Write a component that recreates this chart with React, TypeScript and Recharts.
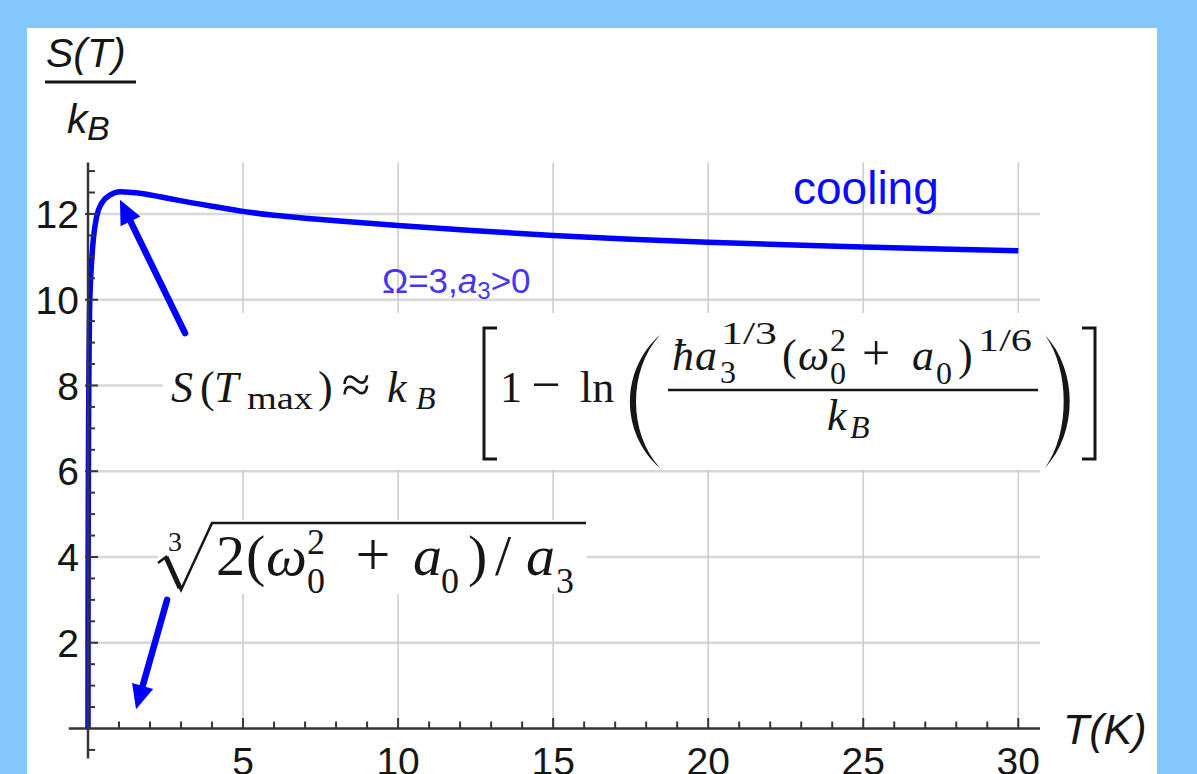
import React from 'react';
import { LineChart, Line, XAxis, YAxis, CartesianGrid, ReferenceLine } from 'recharts';

// entropy curve S(T)/k_B against temperature T (K)
const temperature = [
  0, 0.002, 0.005, 0.01, 0.02, 0.035, 0.05, 0.08, 0.12, 0.17,
  0.28, 0.44, 0.71, 1.03, 1.45, 1.89, 2.32, 2.97, 4, 5,
  6, 7, 8, 10, 12.5, 15, 17.5, 20, 22.5, 25,
  27.5, 30,
];
const entropy = [
  0, 2.5, 4.0, 5.5, 7.3, 8.8, 9.7, 10.4, 10.93, 11.4,
  11.94, 12.25, 12.44, 12.52, 12.5, 12.46, 12.4, 12.31, 12.18, 12.06,
  11.97, 11.9, 11.84, 11.73, 11.61, 11.5, 11.41, 11.34, 11.28, 11.23,
  11.18, 11.14,
];

const xTicks = [1, 2, 3, 4, 5, 6, 7, 8, 9, 10, 11, 12, 13, 14, 15, 16, 17, 18, 19, 20, 21, 22, 23, 24, 25, 26, 27, 28, 29, 30];
const xLabels = [5, 10, 15, 20, 25, 30];
const yTicks = [0.5, 1, 1.5, 2, 2.5, 3, 3.5, 4, 4.5, 5, 5.5, 6, 6.5, 7, 7.5, 8, 8.5, 9, 9.5, 10, 10.5, 11, 11.5, 12, 12.5, 13];
const yLabels = [2, 4, 6, 8, 10, 12];

// arrows: [tail, tip] in (T, S) units
const peakArrow = [{ x: 3.13, y: 9.22 }, { x: 1.03, y: 12.33 }];
const originArrow = [{ x: 2.55, y: 3.0 }, { x: 1.55, y: 0.45 }];

const data = temperature.map((t, i) => ({ t, s: entropy[i] }));

const W = 1197;
const H = 774;
const X_TICK_MARGIN = 18.5;
const Y_TICK_MARGIN = 9;

const SANS = "'Liberation Sans', Arial, sans-serif";
const SERIF = "'Liberation Serif', 'Times New Roman', serif";
const INK = '#161616';
const AXIS = '#353535';
const BLUE = '#0000ff';

function XTick(props: any) {
  const { x, y, payload } = props;
  const axisY = y - X_TICK_MARGIN;
  const major = xLabels.includes(payload.value);
  return (
    <g>
      <line x1={x} x2={x} y1={axisY} y2={axisY - (major ? 10.5 : 7)} stroke={AXIS} strokeWidth={2} />
      {major && (
        <text x={x} y={y} dy="0.71em" textAnchor="middle" fontSize={39} fontFamily={SANS} fill={INK}>
          {payload.value}
        </text>
      )}
    </g>
  );
}

function YTick(props: any) {
  const { x, y, payload } = props;
  const axisX = x + Y_TICK_MARGIN;
  const major = yLabels.includes(payload.value);
  return (
    <g>
      <line x1={axisX - (major ? 3 : 0)} x2={axisX + (major ? 10 : 7)} y1={y} y2={y} stroke={AXIS} strokeWidth={2} />
      {major && (
        <text x={x} y={y} dy="0.36em" textAnchor="end" fontSize={39} fontFamily={SANS} fill={INK}>
          {payload.value}
        </text>
      )}
    </g>
  );
}

function Arrow(props: any) {
  const { x1, y1, x2, y2 } = props;
  const dx = x2 - x1;
  const dy = y2 - y1;
  const len = Math.hypot(dx, dy) || 1;
  const ux = dx / len;
  const uy = dy / len;
  const head = 24;
  const half = 11;
  const bx = x2 - ux * head;
  const by = y2 - uy * head;
  return (
    <g>
      <line x1={x1} y1={y1} x2={bx + ux * 3} y2={by + uy * 3} stroke={BLUE} strokeWidth={6.5} strokeLinecap="round" />
      <polygon
        points={`${x2},${y2} ${bx - uy * half},${by + ux * half} ${bx + uy * half},${by - ux * half}`}
        fill={BLUE}
      />
    </g>
  );
}

function gridLine(color: string, width: number) {
  return (p: any) => (
    <line key={p.key} x1={p.x1} y1={p.y1} x2={p.x2} y2={p.y2} stroke={color} strokeWidth={width} />
  );
}

function MaxEntropyFormula() {
  const F = 44;
  const s = 32;
  return (
    <g fill={INK} fontFamily={SERIF}>
      <polygon points="200,313 1102,313 1102,470 163,470 163,345 200,345" fill="#ffffff" />
      <text x={171} y={402} fontSize={F} fontStyle="italic">S</text>
      <text x={200} y={402} fontSize={F}>(</text>
      <text x={214} y={402} fontSize={F} fontStyle="italic">T</text>
      <text x={247} y={409} fontSize={s} textLength={66} lengthAdjust="spacingAndGlyphs">max</text>
      <text x={318} y={402} fontSize={F}>)</text>
      <text x={356} y={402} fontSize={52} textAnchor="middle">≈</text>
      <text x={387} y={402} fontSize={F} fontStyle="italic">k</text>
      <text x={416} y={409} fontSize={s} fontStyle="italic">B</text>
      <path d="M497,328 H484 V459 H497" fill="none" stroke={INK} strokeWidth={3} />
      <text x={500} y={402} fontSize={F}>1</text>
      <text x={546} y={402} fontSize={52} textAnchor="middle">−</text>
      <text x={580} y={402} fontSize={F}>ln</text>
      <path d="M660,335 C620,370 620,433 660,468 C628,433 628,370 660,335 Z" />
      {/* numerator */}
      <text x={672} y={370} fontSize={F} fontStyle="italic">ħ</text>
      <text x={695} y={370} fontSize={F} fontStyle="italic">a</text>
      <text x={721} y={344} fontSize={s} textLength={56} lengthAdjust="spacingAndGlyphs">1/3</text>
      <text x={720} y={383} fontSize={s}>3</text>
      <text x={782} y={370} fontSize={F}>(</text>
      <text x={798} y={370} fontSize={F} fontStyle="italic">ω</text>
      <text x={830} y={351} fontSize={s}>2</text>
      <text x={830} y={384} fontSize={s}>0</text>
      <text x={876} y={370} fontSize={50} textAnchor="middle">+</text>
      <text x={912} y={370} fontSize={F} fontStyle="italic">a</text>
      <text x={936} y={384} fontSize={s}>0</text>
      <text x={958} y={370} fontSize={F}>)</text>
      <text x={978} y={351} fontSize={s} textLength={54} lengthAdjust="spacingAndGlyphs">1/6</text>
      <line x1={668} x2={1038} y1={390} y2={390} stroke={INK} strokeWidth={2.4} />
      {/* denominator */}
      <text x={827} y={430} fontSize={F} fontStyle="italic">k</text>
      <text x={850} y={438} fontSize={s} fontStyle="italic">B</text>
      <path d="M1045,335 C1078,370 1078,433 1045,468 C1070,433 1070,370 1045,335 Z" />
      <path d="M1082,328 H1095 V459 H1082" fill="none" stroke={INK} strokeWidth={3} />
    </g>
  );
}

function CubeRootFormula() {
  const F = 58;
  const s = 36;
  return (
    <g fill={INK} fontFamily={SERIF}>
      <rect x={158} y={520} width={429} height={74} fill="#ffffff" />
      <text x={168} y={551} fontSize={28}>3</text>
      <path d="M158,563 L166,557 L181,590 L212,523 H586" fill="none" stroke={INK} strokeWidth={2.5} />
      <line x1={166} y1={557} x2={180} y2={588} stroke={INK} strokeWidth={5} />
      <text x={216} y={575} fontSize={F}>2</text>
      <text x={246} y={575} fontSize={F}>(</text>
      <text x={266} y={575} fontSize={F} fontStyle="italic">ω</text>
      <text x={307} y={554} fontSize={s}>2</text>
      <text x={307} y={593} fontSize={s}>0</text>
      <text x={373} y={575} fontSize={62} textAnchor="middle">+</text>
      <text x={413} y={575} fontSize={F} fontStyle="italic">a</text>
      <text x={441} y={593} fontSize={s}>0</text>
      <text x={468} y={575} fontSize={F}>)</text>
      <text x={495} y={575} fontSize={F}>/</text>
      <text x={526} y={575} fontSize={F} fontStyle="italic">a</text>
      <text x={556} y={593} fontSize={s}>3</text>
    </g>
  );
}

function Annotations() {
  return (
    <svg width={W} height={H} style={{ position: 'absolute', left: 0, top: 0, pointerEvents: 'none' }}>
      <MaxEntropyFormula />
      <CubeRootFormula />
      <g fontFamily={SANS} fill={INK} fontStyle="italic">
        <text x={46} y={67} fontSize={41}>S(T)</text>
        <line x1={45} x2={136} y1={82} y2={82} stroke={INK} strokeWidth={3} />
        <text x={67} y={133} fontSize={41}>k</text>
        <text x={87} y={140} fontSize={34}>B</text>
        <text x={1063} y={744} fontSize={43}>T(K)</text>
      </g>
      <text x={793} y={204} fontSize={46} fontFamily={SANS} fill="#0a0aff">cooling</text>
      <text x={382} y={293} fontSize={35} fontFamily={SANS} fill="#4636f0">
        Ω=3,<tspan fontStyle="italic">a</tspan><tspan fontSize={24} dy={6}>3</tspan><tspan dy={-6}>&gt;0</tspan>
      </text>
    </svg>
  );
}

export default function App() {
  return (
    <div style={{ position: 'absolute', left: 0, top: 0, width: W, height: H, background: '#84c8fb', overflow: 'hidden' }}>
      <div style={{ position: 'absolute', left: 27, top: 28, width: 1130, height: H - 28, background: '#ffffff' }} />
      <div style={{ position: 'absolute', left: 0, top: 0 }}>
        <LineChart width={W} height={H} data={data} margin={{ top: 162.5, right: 157, bottom: 0, left: 0 }}>
          <CartesianGrid
            horizontalValues={yLabels}
            verticalValues={xLabels}
            horizontal={gridLine('#d8d8d8', 2.6)}
            vertical={gridLine('#cdcdcd', 1.6)}
          />
          <XAxis
            type="number"
            dataKey="t"
            domain={[0, 30.7]}
            ticks={xTicks}
            interval={0}
            height={45.5}
            tickSize={0}
            tickMargin={X_TICK_MARGIN}
            tickLine={false}
            axisLine={{ stroke: AXIS, strokeWidth: 2.5 }}
            tick={<XTick />}
          />
          <YAxis
            type="number"
            domain={[0, 13.2]}
            ticks={yTicks}
            interval={0}
            width={88}
            tickSize={0}
            tickMargin={Y_TICK_MARGIN}
            tickLine={false}
            axisLine={{ stroke: AXIS, strokeWidth: 2.5 }}
            tick={<YTick />}
          />
          {/* axis stubs past the origin */}
          <ReferenceLine segment={[{ x: -0.62, y: 0 }, { x: 0, y: 0 }]} ifOverflow="visible" stroke={AXIS} strokeWidth={2.5} />
          <ReferenceLine segment={[{ x: 0, y: 0 }, { x: 0, y: -0.7 }]} ifOverflow="visible" stroke={AXIS} strokeWidth={2.5} />
          <ReferenceLine segment={[{ x: 0, y: -0.5 }, { x: 0.23, y: -0.5 }]} ifOverflow="visible" stroke={AXIS} strokeWidth={2} />
          <Line
            type="monotone"
            dataKey="s"
            stroke={BLUE}
            strokeWidth={5.5}
            dot={false}
            activeDot={false}
            isAnimationActive={false}
          />
          <ReferenceLine segment={peakArrow} shape={Arrow} />
          <ReferenceLine segment={originArrow} shape={Arrow} />
        </LineChart>
      </div>
      <Annotations />
    </div>
  );
}
